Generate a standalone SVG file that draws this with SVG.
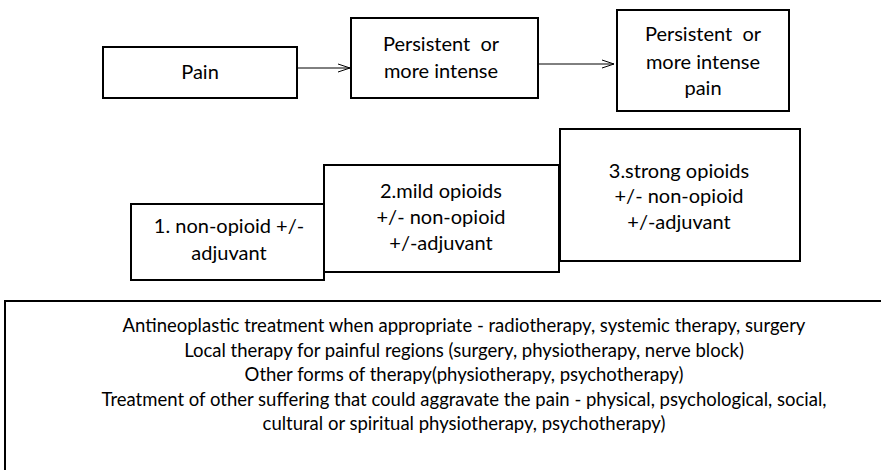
<svg xmlns="http://www.w3.org/2000/svg" width="881" height="470" viewBox="0 0 881 470">
<style>
.box{fill:#fff;stroke:#000;stroke-width:2}
.t{font-family:Lato,"Liberation Sans",Arial,sans-serif;font-size:20px;fill:#000;text-anchor:middle;white-space:pre}
.b{font-size:18.5px}
.c{stroke:#000;stroke-width:1;fill:none}
</style>
<defs>
<marker id="arr" markerWidth="14" markerHeight="10" refX="13" refY="5" orient="auto" markerUnits="userSpaceOnUse">
<path d="M1,1 L13,5 L1,9" fill="none" stroke="#000" stroke-width="1"/>
</marker>
</defs>
<rect width="881" height="470" fill="#fff"/>
<g id="connectors">
<line class="c" x1="297" y1="68" x2="350" y2="68" marker-end="url(#arr)"/>
<line class="c" x1="538" y1="64" x2="614" y2="64" marker-end="url(#arr)"/>
</g>
<g id="pain">
<rect class="box" x="103" y="47" width="194" height="51"/>
<text class="t" x="200" y="79">Pain</text>
</g>
<g id="persistent1">
<rect class="box" x="351" y="18" width="187" height="80"/>
<text class="t" x="441" y="51" xml:space="preserve">Persistent  or</text>
<text class="t" x="441" y="78">more intense</text>
</g>
<g id="persistent2">
<rect class="box" x="617" y="10" width="172" height="101"/>
<text class="t" x="703" y="41" xml:space="preserve">Persistent  or</text>
<text class="t" x="703" y="69">more intense</text>
<text class="t" x="703" y="95">pain</text>
</g>
<g id="step1">
<rect class="box" x="131" y="204" width="193" height="76"/>
<text class="t" x="229" y="233">1. non-opioid +/-</text>
<text class="t" x="229" y="260">adjuvant</text>
</g>
<g id="step2">
<rect class="box" x="324" y="165" width="235" height="107"/>
<text class="t" x="441" y="198">2.mild opioids</text>
<text class="t" x="441" y="224">+/- non-opioid</text>
<text class="t" x="441" y="250">+/-adjuvant</text>
</g>
<g id="step3">
<rect class="box" x="560" y="129" width="240" height="132"/>
<text class="t" x="679" y="178">3.strong opioids</text>
<text class="t" x="679" y="203">+/- non-opioid</text>
<text class="t" x="679" y="229">+/-adjuvant</text>
</g>
<g id="other">
<rect class="box" x="5" y="301" width="900" height="200"/>
<text class="t b" x="464" y="332">Antineoplastic treatment when appropriate - radiotherapy, systemic therapy, surgery</text>
<text class="t b" x="464" y="356.5">Local therapy for painful regions (surgery, physiotherapy, nerve block)</text>
<text class="t b" x="464" y="381">Other forms of therapy(physiotherapy, psychotherapy)</text>
<text class="t b" x="464" y="405.5">Treatment of other suffering that could aggravate the pain - physical, psychological, social,</text>
<text class="t b" x="464" y="430">cultural or spiritual physiotherapy, psychotherapy)</text>
</g>
</svg>
